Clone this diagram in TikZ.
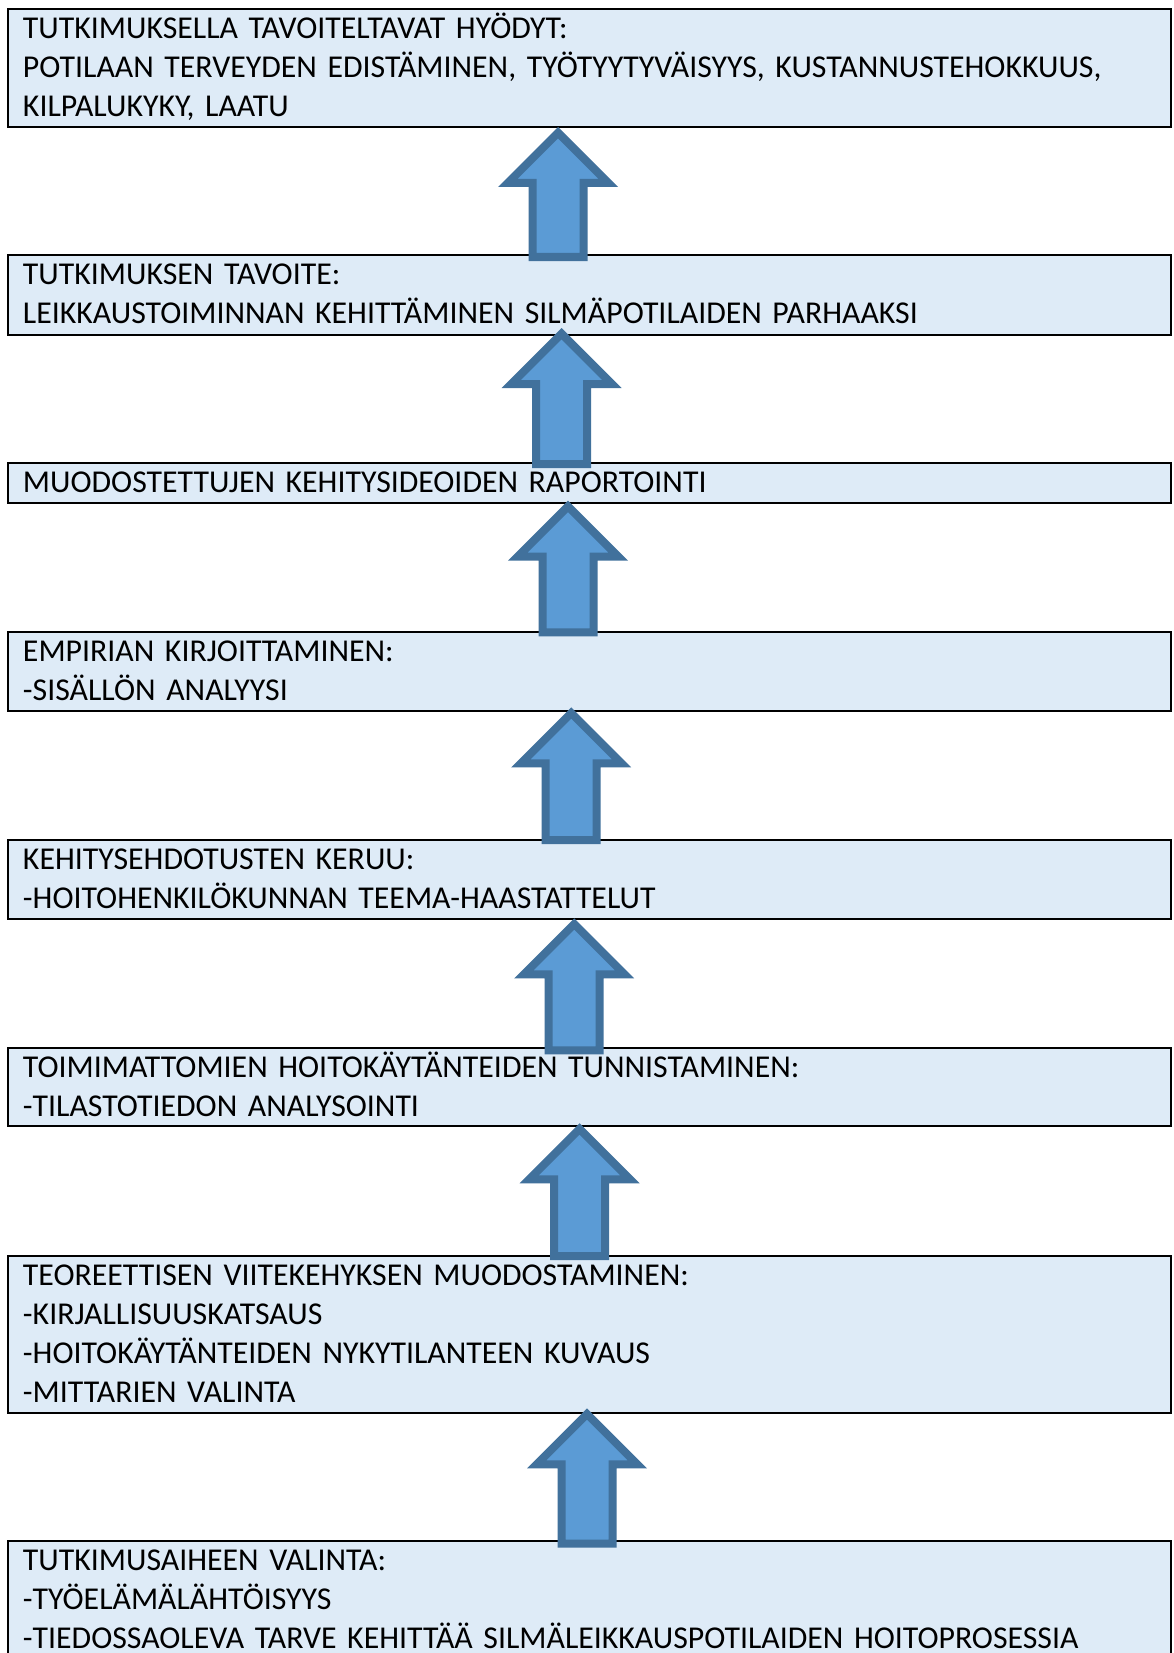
\documentclass[tikz,border=0pt]{standalone}
\usepackage{fontspec}
\setmainfont{Carlito}
\usetikzlibrary{calc}
\definecolor{boxfill}{HTML}{DEEBF7}
\definecolor{arrfill}{HTML}{5B9BD5}
\definecolor{arrline}{HTML}{41719C}
\newcommand\mystrut{\rule[-5pt]{0pt}{19.5pt}}
\newcommand{\blkarrow}[5]{%
  \path ($(#3,0 |- #2.south)+(0,#4)$) coordinate (tip)
        ($(#3,0 |- #1.north)+(0,#5)$) coordinate (bot);
  \draw[blockarrow] ($(tip)+(0,5.66)$) coordinate (tp) -- ++(-50.34,50.34) -- ++(24.84,0)
     -- ($(bot)+(-25.5,-4)$) -- ++(51,0) -- ($(tp)+(25.5,50.34)$) -- ($(tp)+(50.34,50.34)$) -- cycle;
}
\tikzset{
  box/.style={draw=black, line width=1pt, fill=boxfill, anchor=north west,
    minimum width=581.5pt, minimum height=#1, text width=566.5pt,
    inner xsep=7.5pt, inner ysep=0pt, outer sep=0pt, align=left,
    font=\fontsize{15.9pt}{19.5pt}\selectfont},
  blockarrow/.style={draw=arrline, fill=arrfill, line width=4pt, line join=miter}
}
\begin{document}
\begin{tikzpicture}[x=0.5pt,y=-0.5pt]
\useasboundingbox (0,0) rectangle (1173,1653);
\clip (0,0) rectangle (1173,1653);
\fill[white] (0,0) rectangle (1173,1653);
\node[box=59pt] (b1) at (8,9) {\mystrut TUTKIMUKSELLA TAVOITELTAVAT HYÖDYT:\\POTILAAN TERVEYDEN EDISTÄMINEN, TYÖTYYTYVÄISYYS, KUSTANNUSTEHOKKUUS,\\KILPALUKYKY, LAATU\mystrut};
\node[box=40pt] (b2) at (8,255) {\mystrut TUTKIMUKSEN TAVOITE:\\LEIKKAUSTOIMINNAN KEHITTÄMINEN SILMÄPOTILAIDEN PARHAAKSI\mystrut};
\node[box=20pt] (b3) at (8,463) {\mystrut MUODOSTETTUJEN KEHITYSIDEOIDEN RAPORTOINTI\mystrut};
\node[box=39.5pt] (b4) at (8,632) {\mystrut EMPIRIAN KIRJOITTAMINEN:\\-SISÄLLÖN ANALYYSI\mystrut};
\node[box=39.5pt] (b5) at (8,840) {\mystrut KEHITYSEHDOTUSTEN KERUU:\\-HOITOHENKILÖKUNNAN TEEMA-HAASTATTELUT\mystrut};
\node[box=39pt] (b6) at (8,1048) {\mystrut TOIMIMATTOMIEN HOITOKÄYTÄNTEIDEN TUNNISTAMINEN:\\-TILASTOTIEDON ANALYSOINTI\mystrut};
\node[box=78.5pt] (b7) at (8,1256) {\mystrut TEOREETTISEN VIITEKEHYKSEN MUODOSTAMINEN:\\-KIRJALLISUUSKATSAUS\\-HOITOKÄYTÄNTEIDEN NYKYTILANTEEN KUVAUS\\-MITTARIEN VALINTA\mystrut};
\node[box=59pt] (b8) at (8,1541) {\mystrut TUTKIMUSAIHEEN VALINTA:\\-TYÖELÄMÄLÄHTÖISYYS\\-TIEDOSSAOLEVA TARVE KEHITTÄÄ SILMÄLEIKKAUSPOTILAIDEN HOITOPROSESSIA\mystrut};
\blkarrow{b2}{b1}{558}{0}{6}
\blkarrow{b3}{b2}{561.5}{-7}{5}
\blkarrow{b4}{b3}{568}{-2.3}{4.4}
\blkarrow{b5}{b4}{571.2}{-3.7}{4}
\blkarrow{b6}{b5}{574.2}{-0.7}{6.3}
\blkarrow{b7}{b6}{579.6}{-2.7}{4}
\blkarrow{b8}{b7}{587}{-4.7}{6.7}
\end{tikzpicture}
\end{document}
